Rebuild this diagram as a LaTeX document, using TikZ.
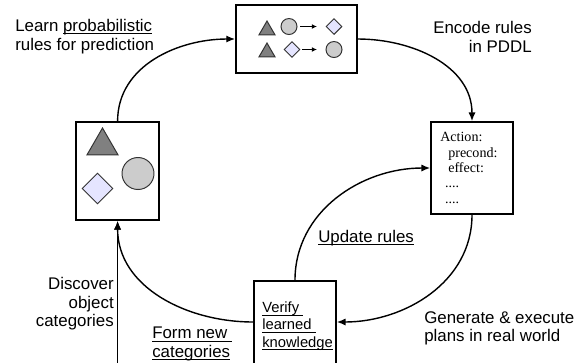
\documentclass[tikz,border=0pt]{standalone}
\usepackage{fontspec}
\setmainfont{Liberation Sans}
\newfontfamily\codefont{Liberation Serif}
\usetikzlibrary{arrows.meta,positioning,shapes.geometric}
\newsavebox\ulnbox
\newcommand\uln[1]{\sbox\ulnbox{#1}%
  \rlap{\rule[-2pt]{\wd\ulnbox}{0.6pt}}\usebox\ulnbox}

\begin{document}
\begin{tikzpicture}[
  font=\fontsize{12}{13.2}\selectfont,
  box/.style={draw, line width=1.2pt, inner sep=0pt},
  lab/.style={inner sep=0pt, align=left},
  arr/.style={-{Latex[length=2.2mm, width=1.8mm]}, line width=1pt},
  sarr/.style={-{Latex[length=1.3mm, width=1.2mm]}, line width=0.9pt},
  tri/.style={draw=black!80, fill=black!50, regular polygon, regular polygon sides=3, inner sep=0pt, line width=0.7pt},
  dot/.style={draw=black!80, fill=black!20, circle, inner sep=0pt, line width=0.7pt},
  dia/.style={draw=black!80, fill=blue!10, diamond, inner sep=0pt, line width=0.7pt}
]
\clip (0,0) rectangle (14.65,-9.05);

% ---------- Boxes ----------
\node[box, minimum width=3.025cm, minimum height=1.7cm] (rules) at (7.41,-0.975) {};
\node[box, minimum width=2.075cm, minimum height=2.45cm] (cats) at (2.94,-4.275) {};
\node[box, minimum width=2.05cm, minimum height=2.3cm] (pddl) at (11.8,-4.2) {};
\node[box, minimum width=2.05cm, minimum height=3cm] (verify) at (7.375,-8.525) {};

% ---------- Rule pictures ----------
\node[tri, minimum size=0.462cm, anchor=north] (t1) at (6.675,-0.5) {};
\node[dot, minimum size=0.4cm] (c1) at (7.225,-0.6625) {};
\node[dia, minimum size=0.4cm] (d1) at (8.35,-0.6625) {};
\draw[sarr, shorten <=2pt, shorten >=6pt] (c1) -- (d1);
\node[tri, minimum size=0.462cm, anchor=north] (t2) at (6.675,-1.05) {};
\node[dia, minimum size=0.4cm] (d2) at (7.3,-1.2375) {};
\node[dot, minimum size=0.4cm] (c2) at (8.35,-1.2375) {};
\draw[sarr, shorten <=1pt, shorten >=6pt] (d2) -- (c2);

% ---------- Object categories ----------
\node[tri, minimum size=0.895cm, anchor=north] (bigtri) at (2.5625,-3.175) {};
\node[dot, minimum size=0.8cm] (bigdot) at (3.45,-4.3375) {};
\node[dia, minimum size=0.775cm] (bigdia) at (2.4375,-4.7125) {};

% ---------- Box texts ----------
\node[lab, anchor=north west, font=\codefont\fontsize{10}{11}\selectfont] (action) at (11.0,-3.3)
  {Action:\\ \hspace*{5.7pt}precond:\\ \hspace*{5.7pt}effect:\\ \hspace*{3.5pt}....\\ \hspace*{3.5pt}....};
\node[lab, anchor=north west, font=\fontsize{10.5}{12.1}\selectfont] (vtext) at (6.55,-7.55)
  {\uln{Verify\ }\\ \uln{learned\ }\\ \uln{knowledge}};

% ---------- Cycle ----------
\coordinate (src) at ([yshift=-4cm]cats.south);
\draw[arr] (cats.north) to[out=90, in=180] (rules.west);
\draw[arr] (rules.east) to[out=0, in=90] (pddl.north);
\draw[arr] (pddl.south) to[out=-90, in=0] ([yshift=0.475cm]verify.east);
\draw[arr] (verify.north) to[out=90, in=180] (pddl.west);
\draw[arr] ([yshift=0.475cm]verify.west) to[out=180, in=-90] (cats.south);
\draw[arr] (src) -- (cats.south);

% ---------- Labels ----------
\node[lab, anchor=north west] (learn) at (0.375,-0.475) {Learn \uln{probabilistic}\\rules for prediction};
\node[lab, align=right, anchor=north east] (encode) at (13.3,-0.525) {Encode rules\\in PDDL};
\node[lab, anchor=north west] (update) at (7.95,-5.75) {\uln{Update rules}};
\node[lab, align=right, anchor=north east] (discover) at (2.85,-6.925) {Discover\\object\\categories};
\node[lab, anchor=north west] (formnew) at (3.8,-8.175) {\uln{Form new\ }\\\uln{categories}};
\node[lab, anchor=north west] (generate) at (10.6,-7.775) {Generate \& execute\\plans in real world};
\end{tikzpicture}
\end{document}
